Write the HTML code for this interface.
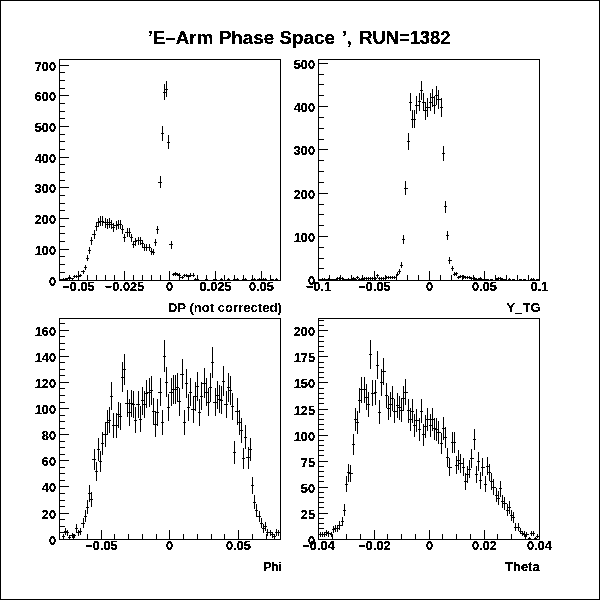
<!DOCTYPE html>
<html><head><meta charset="utf-8"><title>E-Arm Phase Space</title>
<style>
html,body{margin:0;padding:0;background:#fff;}
body{width:600px;height:600px;overflow:hidden;}
svg{display:block;}
text{font-family:"Liberation Sans",Arial,Helvetica,sans-serif;font-weight:bold;font-size:12.75px;fill:#000;}
.ttl{font-size:17.5px;}
.ax{font-size:13px;}
</style></head><body>
<svg width="600" height="600" viewBox="0 0 600 600">
<rect x="0" y="0" width="600" height="600" fill="#fff"/>
<defs><filter id="bw" x="0" y="0" width="600" height="600" filterUnits="userSpaceOnUse" color-interpolation-filters="sRGB"><feComponentTransfer><feFuncA type="discrete" tableValues="0 1 1"/></feComponentTransfer></filter><filter id="bw2" x="0" y="0" width="600" height="600" filterUnits="userSpaceOnUse" color-interpolation-filters="sRGB"><feComponentTransfer><feFuncA type="discrete" tableValues="0 0 0 0 0 0 0 0 0 1 1 1 1 1 1 1 1 1 1 1"/></feComponentTransfer></filter></defs>
<g fill="#000" shape-rendering="crispEdges" filter="url(#bw)">
<path d="M0 0h600v600h-600zM1 1v598h598v-598z" fill-rule="evenodd"/>
<path d="M59 59h222v1h-222zM59 280h222v1h-222zM59 59h1v222h-1zM280 59h1v222h-1zM78 271h1v9h-1zM124 271h1v9h-1zM169 271h1v9h-1zM215 271h1v9h-1zM261 271h1v9h-1zM69 275h1v5h-1zM87 275h1v5h-1zM96 275h1v5h-1zM105 275h1v5h-1zM114 275h1v5h-1zM133 275h1v5h-1zM142 275h1v5h-1zM151 275h1v5h-1zM160 275h1v5h-1zM179 275h1v5h-1zM188 275h1v5h-1zM197 275h1v5h-1zM206 275h1v5h-1zM224 275h1v5h-1zM234 275h1v5h-1zM243 275h1v5h-1zM252 275h1v5h-1zM270 275h1v5h-1zM59 249h10v1h-10zM59 218h10v1h-10zM59 187h10v1h-10zM59 157h10v1h-10zM59 126h10v1h-10zM59 95h10v1h-10zM59 65h10v1h-10zM59 272h6v1h-6zM59 264h6v1h-6zM59 256h6v1h-6zM59 241h6v1h-6zM59 233h6v1h-6zM59 226h6v1h-6zM59 210h6v1h-6zM59 203h6v1h-6zM59 195h6v1h-6zM59 180h6v1h-6zM59 172h6v1h-6zM59 164h6v1h-6zM59 149h6v1h-6zM59 141h6v1h-6zM59 134h6v1h-6zM59 118h6v1h-6zM59 111h6v1h-6zM59 103h6v1h-6zM59 88h6v1h-6zM59 80h6v1h-6zM59 72h6v1h-6zM61 279h1v2h-1zM59 279h4v1h-4zM63 278h1v2h-1zM62 279h3v1h-3zM65 278h1v2h-1zM64 279h3v1h-3zM67 278h1v2h-1zM66 278h3v1h-3zM69 276h1v3h-1zM68 277h3v1h-3zM72 278h1v2h-1zM70 278h4v1h-4zM74 275h1v3h-1zM73 276h3v1h-3zM76 275h1v3h-1zM75 276h3v1h-3zM78 274h1v4h-1zM77 276h3v1h-3zM80 274h1v3h-1zM79 275h3v1h-3zM83 270h1v4h-1zM81 271h4v1h-4zM85 265h1v5h-1zM84 267h3v1h-3zM87 255h1v6h-1zM86 258h3v1h-3zM89 247h1v7h-1zM88 250h3v1h-3zM91 237h1v8h-1zM90 240h3v1h-3zM94 230h1v9h-1zM92 234h4v1h-4zM96 222h1v9h-1zM95 226h3v1h-3zM98 218h1v9h-1zM97 222h3v1h-3zM100 216h1v10h-1zM99 221h3v1h-3zM102 216h1v10h-1zM101 221h3v1h-3zM105 218h1v10h-1zM103 222h4v1h-4zM107 219h1v10h-1zM106 224h3v1h-3zM109 218h1v10h-1zM108 222h3v1h-3zM111 220h1v9h-1zM110 224h3v1h-3zM113 223h1v9h-1zM112 227h3v1h-3zM116 221h1v9h-1zM114 225h4v1h-4zM118 220h1v9h-1zM117 224h3v1h-3zM120 220h1v9h-1zM119 224h3v1h-3zM122 225h1v9h-1zM121 229h3v1h-3zM124 234h1v8h-1zM123 237h3v1h-3zM127 228h1v9h-1zM125 232h4v1h-4zM129 228h1v9h-1zM128 232h3v1h-3zM131 234h1v8h-1zM130 237h3v1h-3zM133 241h1v7h-1zM132 244h3v1h-3zM135 238h1v8h-1zM134 241h3v1h-3zM138 237h1v8h-1zM136 240h4v1h-4zM140 237h1v8h-1zM139 240h3v1h-3zM142 240h1v8h-1zM141 243h3v1h-3zM144 244h1v7h-1zM143 247h3v1h-3zM146 244h1v7h-1zM145 247h3v1h-3zM149 244h1v7h-1zM147 247h4v1h-4zM151 248h1v7h-1zM150 251h3v1h-3zM153 249h1v6h-1zM152 252h3v1h-3zM155 239h1v7h-1zM154 242h3v1h-3zM157 226h1v8h-1zM156 229h3v1h-3zM160 176h1v12h-1zM158 182h4v1h-4zM162 126h1v15h-1zM161 133h3v1h-3zM164 84h1v16h-1zM163 92h3v1h-3zM166 81h1v16h-1zM165 89h3v1h-3zM168 135h1v14h-1zM167 142h3v1h-3zM171 241h1v8h-1zM169 244h4v1h-4zM173 273h1v3h-1zM172 274h3v1h-3zM175 272h1v4h-1zM174 273h3v1h-3zM177 273h1v3h-1zM176 274h3v1h-3zM179 273h1v4h-1zM178 275h3v1h-3zM182 276h1v3h-1zM180 277h4v1h-4zM184 274h1v3h-1zM183 275h3v1h-3zM186 274h1v3h-1zM185 275h3v1h-3zM188 275h1v3h-1zM187 276h3v1h-3zM190 273h1v4h-1zM189 275h3v1h-3zM193 273h1v4h-1zM191 275h4v1h-4zM195 278h1v2h-1zM194 279h3v1h-3zM197 279h1v2h-1zM196 279h3v1h-3zM206 279h1v2h-1zM205 279h3v1h-3zM215 279h1v2h-1zM213 279h4v1h-4zM221 278h1v2h-1zM220 279h3v1h-3zM228 278h1v2h-1zM227 279h3v1h-3zM234 279h1v2h-1zM233 279h3v1h-3zM237 278h1v2h-1zM235 279h4v1h-4zM243 278h1v2h-1zM242 279h3v1h-3zM245 278h1v2h-1zM244 279h3v1h-3zM252 278h1v2h-1zM251 279h3v1h-3zM254 278h1v2h-1zM253 279h3v1h-3zM259 278h1v2h-1zM257 279h4v1h-4zM261 278h1v2h-1zM260 279h3v1h-3zM263 278h1v2h-1zM262 279h3v1h-3zM265 278h1v2h-1zM264 279h3v1h-3zM272 279h1v2h-1zM271 279h3v1h-3zM276 278h1v2h-1zM275 279h3v1h-3z"/>
<text x="78.5" y="291" text-anchor="middle">−0.05</text>
<text x="124.5" y="291" text-anchor="middle">−0.025</text>
<text x="169.5" y="291" text-anchor="middle">0</text>
<text x="215.5" y="291" text-anchor="middle">0.025</text>
<text x="261.5" y="291" text-anchor="middle">0.05</text>
<text x="56" y="286.20" text-anchor="end">0</text>
<text x="56" y="255.20" text-anchor="end">100</text>
<text x="56" y="224.20" text-anchor="end">200</text>
<text x="56" y="193.20" text-anchor="end">300</text>
<text x="56" y="163.20" text-anchor="end">400</text>
<text x="56" y="132.20" text-anchor="end">500</text>
<text x="56" y="101.20" text-anchor="end">600</text>
<text x="56" y="71.20" text-anchor="end">700</text>
<path d="M318 59h222v1h-222zM318 280h222v1h-222zM318 59h1v222h-1zM539 59h1v222h-1zM374 271h1v9h-1zM429 271h1v9h-1zM484 271h1v9h-1zM329 275h1v5h-1zM340 275h1v5h-1zM351 275h1v5h-1zM362 275h1v5h-1zM385 275h1v5h-1zM396 275h1v5h-1zM407 275h1v5h-1zM418 275h1v5h-1zM440 275h1v5h-1zM451 275h1v5h-1zM462 275h1v5h-1zM473 275h1v5h-1zM495 275h1v5h-1zM506 275h1v5h-1zM517 275h1v5h-1zM528 275h1v5h-1zM318 236h10v1h-10zM318 193h10v1h-10zM318 149h10v1h-10zM318 106h10v1h-10zM318 63h10v1h-10zM318 268h6v1h-6zM318 258h6v1h-6zM318 247h6v1h-6zM318 225h6v1h-6zM318 214h6v1h-6zM318 204h6v1h-6zM318 182h6v1h-6zM318 171h6v1h-6zM318 160h6v1h-6zM318 139h6v1h-6zM318 128h6v1h-6zM318 117h6v1h-6zM318 95h6v1h-6zM318 84h6v1h-6zM318 74h6v1h-6zM320 279h1v2h-1zM319 279h3v1h-3zM322 278h1v2h-1zM321 279h3v1h-3zM324 278h1v2h-1zM323 279h3v1h-3zM326 279h1v2h-1zM325 279h3v1h-3zM328 278h1v2h-1zM327 279h4v1h-4zM331 279h1v2h-1zM330 279h3v1h-3zM333 279h1v2h-1zM332 279h3v1h-3zM335 279h1v2h-1zM334 279h3v1h-3zM337 277h1v3h-1zM336 278h3v1h-3zM339 277h1v3h-1zM338 278h4v1h-4zM342 277h1v3h-1zM341 278h3v1h-3zM344 279h1v2h-1zM343 279h3v1h-3zM346 279h1v2h-1zM345 279h3v1h-3zM348 278h1v2h-1zM347 279h3v1h-3zM350 279h1v2h-1zM349 279h4v1h-4zM353 277h1v3h-1zM352 278h3v1h-3zM355 278h1v2h-1zM354 279h3v1h-3zM357 276h1v3h-1zM356 277h3v1h-3zM359 278h1v2h-1zM358 279h3v1h-3zM361 278h1v2h-1zM360 279h4v1h-4zM364 277h1v3h-1zM363 278h3v1h-3zM366 277h1v3h-1zM365 278h3v1h-3zM368 277h1v3h-1zM367 278h3v1h-3zM370 277h1v3h-1zM369 278h3v1h-3zM372 277h1v3h-1zM371 278h4v1h-4zM375 277h1v3h-1zM374 278h3v1h-3zM377 274h1v4h-1zM376 275h3v1h-3zM379 277h1v3h-1zM378 278h3v1h-3zM381 277h1v3h-1zM380 278h3v1h-3zM383 277h1v3h-1zM382 278h4v1h-4zM386 276h1v3h-1zM385 277h3v1h-3zM388 276h1v3h-1zM387 277h3v1h-3zM390 276h1v3h-1zM389 277h3v1h-3zM392 276h1v3h-1zM391 277h3v1h-3zM394 276h1v3h-1zM393 277h4v1h-4zM397 272h1v4h-1zM396 274h3v1h-3zM399 269h1v5h-1zM398 271h3v1h-3zM401 262h1v6h-1zM400 265h3v1h-3zM403 235h1v9h-1zM402 239h3v1h-3zM405 181h1v14h-1zM404 188h4v1h-4zM408 133h1v17h-1zM407 141h3v1h-3zM410 93h1v18h-1zM409 102h3v1h-3zM412 110h1v18h-1zM411 119h3v1h-3zM414 110h1v18h-1zM413 119h3v1h-3zM416 96h1v18h-1zM415 105h4v1h-4zM419 93h1v18h-1zM418 101h3v1h-3zM421 81h1v19h-1zM420 90h3v1h-3zM423 93h1v18h-1zM422 102h3v1h-3zM425 102h1v18h-1zM424 110h3v1h-3zM427 98h1v19h-1zM426 107h4v1h-4zM430 93h1v18h-1zM429 102h3v1h-3zM432 89h1v18h-1zM431 97h3v1h-3zM434 96h1v18h-1zM433 105h3v1h-3zM436 86h1v19h-1zM435 95h3v1h-3zM438 90h1v19h-1zM437 99h4v1h-4zM441 98h1v19h-1zM440 107h3v1h-3zM443 146h1v15h-1zM442 153h3v1h-3zM445 201h1v12h-1zM444 206h3v1h-3zM447 231h1v9h-1zM446 235h3v1h-3zM449 257h1v7h-1zM448 260h4v1h-4zM452 266h1v5h-1zM451 268h3v1h-3zM454 272h1v4h-1zM453 274h3v1h-3zM456 272h1v4h-1zM455 273h3v1h-3zM458 276h1v3h-1zM457 277h3v1h-3zM460 275h1v3h-1zM459 276h4v1h-4zM463 275h1v4h-1zM462 276h3v1h-3zM465 276h1v3h-1zM464 277h3v1h-3zM467 276h1v3h-1zM466 277h3v1h-3zM469 276h1v3h-1zM468 277h3v1h-3zM471 277h1v3h-1zM470 278h4v1h-4zM474 277h1v3h-1zM473 278h3v1h-3zM476 278h1v2h-1zM475 279h3v1h-3zM478 278h1v2h-1zM477 279h3v1h-3zM480 277h1v3h-1zM479 278h3v1h-3zM482 279h1v2h-1zM481 279h4v1h-4zM485 279h1v2h-1zM484 279h3v1h-3zM487 279h1v2h-1zM486 279h3v1h-3zM491 279h1v2h-1zM490 279h3v1h-3zM496 278h1v2h-1zM495 279h3v1h-3zM498 277h1v3h-1zM497 278h3v1h-3zM500 277h1v3h-1zM499 278h3v1h-3zM502 278h1v2h-1zM501 279h3v1h-3zM504 279h1v2h-1zM503 279h4v1h-4zM509 278h1v2h-1zM508 279h3v1h-3zM513 279h1v2h-1zM512 279h3v1h-3zM520 279h1v2h-1zM519 279h3v1h-3zM524 279h1v2h-1zM523 279h3v1h-3zM531 278h1v2h-1zM530 279h3v1h-3zM533 278h1v2h-1zM532 279h3v1h-3zM537 279h1v2h-1zM536 279h4v1h-4z"/>
<text x="318.5" y="291" text-anchor="middle">−0.1</text>
<text x="374.5" y="291" text-anchor="middle">−0.05</text>
<text x="429.5" y="291" text-anchor="middle">0</text>
<text x="484.5" y="291" text-anchor="middle">0.05</text>
<text x="539.5" y="291" text-anchor="middle">0.1</text>
<text x="315" y="285.20" text-anchor="end">0</text>
<text x="315" y="242.20" text-anchor="end">100</text>
<text x="315" y="199.20" text-anchor="end">200</text>
<text x="315" y="155.20" text-anchor="end">300</text>
<text x="315" y="112.20" text-anchor="end">400</text>
<text x="315" y="69.20" text-anchor="end">500</text>
<path d="M59 318h222v1h-222zM59 539h222v1h-222zM59 318h1v222h-1zM280 318h1v222h-1zM101 530h1v9h-1zM169 530h1v9h-1zM238 530h1v9h-1zM73 534h1v5h-1zM87 534h1v5h-1zM114 534h1v5h-1zM128 534h1v5h-1zM142 534h1v5h-1zM156 534h1v5h-1zM183 534h1v5h-1zM197 534h1v5h-1zM211 534h1v5h-1zM224 534h1v5h-1zM252 534h1v5h-1zM266 534h1v5h-1zM59 513h10v1h-10zM59 486h10v1h-10zM59 460h10v1h-10zM59 434h10v1h-10zM59 408h10v1h-10zM59 382h10v1h-10zM59 356h10v1h-10zM59 330h10v1h-10zM59 532h6v1h-6zM59 526h6v1h-6zM59 519h6v1h-6zM59 506h6v1h-6zM59 500h6v1h-6zM59 493h6v1h-6zM59 480h6v1h-6zM59 473h6v1h-6zM59 467h6v1h-6zM59 454h6v1h-6zM59 447h6v1h-6zM59 441h6v1h-6zM59 428h6v1h-6zM59 421h6v1h-6zM59 415h6v1h-6zM59 402h6v1h-6zM59 395h6v1h-6zM59 388h6v1h-6zM59 375h6v1h-6zM59 369h6v1h-6zM59 362h6v1h-6zM59 349h6v1h-6zM59 343h6v1h-6zM59 336h6v1h-6zM59 323h6v1h-6zM63 534h1v5h-1zM62 536h3v1h-3zM65 528h1v7h-1zM64 531h3v1h-3zM67 530h1v6h-1zM66 532h3v1h-3zM69 535h1v4h-1zM68 537h3v1h-3zM72 533h1v5h-1zM70 535h4v1h-4zM74 534h1v4h-1zM73 535h3v1h-3zM76 524h1v9h-1zM75 528h3v1h-3zM78 530h1v6h-1zM77 532h3v1h-3zM80 528h1v7h-1zM79 531h3v1h-3zM83 518h1v10h-1zM81 523h4v1h-4zM85 510h1v12h-1zM84 516h3v1h-3zM87 500h1v14h-1zM86 507h3v1h-3zM89 485h1v17h-1zM88 493h3v1h-3zM91 492h1v15h-1zM90 499h3v1h-3zM94 449h1v21h-1zM92 459h4v1h-4zM96 462h1v19h-1zM95 471h3v1h-3zM98 438h1v23h-1zM97 449h3v1h-3zM100 451h1v21h-1zM99 461h3v1h-3zM102 432h1v23h-1zM101 443h3v1h-3zM105 422h1v25h-1zM103 434h4v1h-4zM107 410h1v25h-1zM106 422h3v1h-3zM109 407h1v26h-1zM108 420h3v1h-3zM111 382h1v28h-1zM110 396h3v1h-3zM113 413h1v25h-1zM112 425h3v1h-3zM116 413h1v25h-1zM114 425h4v1h-4zM118 402h1v26h-1zM117 414h3v1h-3zM120 403h1v27h-1zM119 416h3v1h-3zM122 362h1v30h-1zM121 377h3v1h-3zM124 354h1v31h-1zM123 369h3v1h-3zM127 390h1v27h-1zM125 403h4v1h-4zM129 399h1v27h-1zM128 412h3v1h-3zM131 390h1v27h-1zM130 403h3v1h-3zM133 391h1v27h-1zM132 404h3v1h-3zM135 407h1v26h-1zM134 420h3v1h-3zM138 391h1v27h-1zM136 404h4v1h-4zM140 406h1v26h-1zM139 419h3v1h-3zM142 387h1v28h-1zM141 400h3v1h-3zM144 391h1v27h-1zM143 404h3v1h-3zM146 380h1v28h-1zM145 393h3v1h-3zM149 378h1v29h-1zM147 392h4v1h-4zM151 376h1v29h-1zM150 390h3v1h-3zM153 398h1v27h-1zM152 411h3v1h-3zM155 411h1v26h-1zM154 424h3v1h-3zM157 399h1v27h-1zM156 412h3v1h-3zM160 378h1v28h-1zM158 392h4v1h-4zM162 410h1v25h-1zM161 422h3v1h-3zM164 340h1v32h-1zM163 356h3v1h-3zM166 367h1v30h-1zM165 382h3v1h-3zM168 394h1v27h-1zM167 407h3v1h-3zM171 378h1v28h-1zM169 392h4v1h-4zM173 375h1v29h-1zM172 389h3v1h-3zM175 375h1v29h-1zM174 389h3v1h-3zM177 373h1v29h-1zM176 387h3v1h-3zM179 388h1v28h-1zM178 401h3v1h-3zM182 359h1v30h-1zM180 374h4v1h-4zM184 410h1v25h-1zM183 422h3v1h-3zM186 369h1v29h-1zM185 383h3v1h-3zM188 394h1v27h-1zM187 407h3v1h-3zM190 378h1v28h-1zM189 392h3v1h-3zM193 396h1v27h-1zM191 409h4v1h-4zM195 382h1v29h-1zM194 396h3v1h-3zM197 372h1v29h-1zM196 386h3v1h-3zM199 399h1v27h-1zM198 412h3v1h-3zM201 382h1v28h-1zM200 396h3v1h-3zM204 368h1v30h-1zM202 383h4v1h-4zM206 378h1v28h-1zM205 392h3v1h-3zM208 388h1v28h-1zM207 402h3v1h-3zM210 373h1v29h-1zM209 387h3v1h-3zM212 347h1v31h-1zM211 362h3v1h-3zM215 388h1v28h-1zM213 402h4v1h-4zM217 381h1v28h-1zM216 395h3v1h-3zM219 385h1v28h-1zM218 399h3v1h-3zM221 386h1v28h-1zM220 400h3v1h-3zM223 366h1v30h-1zM222 381h3v1h-3zM226 391h1v27h-1zM224 404h4v1h-4zM228 373h1v29h-1zM227 387h3v1h-3zM230 376h1v29h-1zM229 390h3v1h-3zM232 393h1v27h-1zM231 406h3v1h-3zM234 441h1v23h-1zM233 452h3v1h-3zM237 398h1v27h-1zM235 411h4v1h-4zM239 410h1v25h-1zM238 422h3v1h-3zM241 418h1v25h-1zM240 430h3v1h-3zM243 448h1v21h-1zM242 458h3v1h-3zM245 425h1v24h-1zM244 437h3v1h-3zM248 447h1v22h-1zM246 457h4v1h-4zM250 438h1v23h-1zM249 449h3v1h-3zM252 477h1v17h-1zM251 485h3v1h-3zM254 495h1v14h-1zM253 502h3v1h-3zM256 504h1v13h-1zM255 510h3v1h-3zM259 511h1v11h-1zM257 516h4v1h-4zM261 518h1v10h-1zM260 523h3v1h-3zM263 524h1v9h-1zM262 528h3v1h-3zM265 522h1v9h-1zM264 526h3v1h-3zM267 529h1v7h-1zM266 532h3v1h-3zM270 530h1v6h-1zM268 532h4v1h-4zM272 532h1v6h-1zM271 534h3v1h-3zM274 534h1v5h-1zM273 536h3v1h-3zM276 529h1v7h-1zM275 532h3v1h-3zM278 530h1v6h-1zM277 532h3v1h-3z"/>
<text x="101.5" y="550" text-anchor="middle">−0.05</text>
<text x="169.5" y="550" text-anchor="middle">0</text>
<text x="238.5" y="550" text-anchor="middle">0.05</text>
<text x="56" y="545.20" text-anchor="end">0</text>
<text x="56" y="519.20" text-anchor="end">20</text>
<text x="56" y="492.20" text-anchor="end">40</text>
<text x="56" y="466.20" text-anchor="end">60</text>
<text x="56" y="440.20" text-anchor="end">80</text>
<text x="56" y="414.20" text-anchor="end">100</text>
<text x="56" y="388.20" text-anchor="end">120</text>
<text x="56" y="362.20" text-anchor="end">140</text>
<text x="56" y="336.20" text-anchor="end">160</text>
<text class="ax" x="281.8" y="570.8" text-anchor="end" textLength="18" lengthAdjust="spacingAndGlyphs">Phi</text>
<path d="M318 318h222v1h-222zM318 539h222v1h-222zM318 318h1v222h-1zM539 318h1v222h-1zM374 530h1v9h-1zM429 530h1v9h-1zM484 530h1v9h-1zM332 534h1v5h-1zM346 534h1v5h-1zM360 534h1v5h-1zM387 534h1v5h-1zM401 534h1v5h-1zM415 534h1v5h-1zM442 534h1v5h-1zM456 534h1v5h-1zM470 534h1v5h-1zM497 534h1v5h-1zM511 534h1v5h-1zM525 534h1v5h-1zM318 513h10v1h-10zM318 487h10v1h-10zM318 461h10v1h-10zM318 435h10v1h-10zM318 409h10v1h-10zM318 382h10v1h-10zM318 356h10v1h-10zM318 330h10v1h-10zM318 534h6v1h-6zM318 528h6v1h-6zM318 523h6v1h-6zM318 518h6v1h-6zM318 507h6v1h-6zM318 502h6v1h-6zM318 497h6v1h-6zM318 492h6v1h-6zM318 481h6v1h-6zM318 476h6v1h-6zM318 471h6v1h-6zM318 466h6v1h-6zM318 455h6v1h-6zM318 450h6v1h-6zM318 445h6v1h-6zM318 440h6v1h-6zM318 429h6v1h-6zM318 424h6v1h-6zM318 419h6v1h-6zM318 414h6v1h-6zM318 403h6v1h-6zM318 398h6v1h-6zM318 393h6v1h-6zM318 388h6v1h-6zM318 377h6v1h-6zM318 372h6v1h-6zM318 367h6v1h-6zM318 362h6v1h-6zM318 351h6v1h-6zM318 346h6v1h-6zM318 341h6v1h-6zM318 336h6v1h-6zM318 325h6v1h-6zM318 320h6v1h-6zM320 532h1v5h-1zM319 534h3v1h-3zM322 532h1v5h-1zM321 534h3v1h-3zM324 532h1v5h-1zM323 534h3v1h-3zM326 530h1v6h-1zM325 532h3v1h-3zM328 531h1v6h-1zM327 533h4v1h-4zM331 532h1v5h-1zM330 534h3v1h-3zM333 526h1v7h-1zM332 529h3v1h-3zM335 525h1v7h-1zM334 528h3v1h-3zM337 525h1v7h-1zM336 528h3v1h-3zM339 521h1v9h-1zM338 525h4v1h-4zM342 517h1v9h-1zM341 521h3v1h-3zM344 504h1v12h-1zM343 510h3v1h-3zM346 476h1v16h-1zM345 484h3v1h-3zM348 464h1v18h-1zM347 472h3v1h-3zM350 465h1v17h-1zM349 473h4v1h-4zM353 434h1v21h-1zM352 444h3v1h-3zM355 408h1v23h-1zM354 419h3v1h-3zM357 411h1v23h-1zM356 422h3v1h-3zM359 388h1v25h-1zM358 400h3v1h-3zM361 377h1v26h-1zM360 389h4v1h-4zM364 377h1v26h-1zM363 389h3v1h-3zM366 384h1v26h-1zM365 397h3v1h-3zM368 392h1v25h-1zM367 404h3v1h-3zM370 340h1v29h-1zM369 354h3v1h-3zM372 380h1v26h-1zM371 393h4v1h-4zM375 380h1v25h-1zM374 392h3v1h-3zM377 351h1v28h-1zM376 365h3v1h-3zM379 400h1v24h-1zM378 412h3v1h-3zM381 369h1v27h-1zM380 382h3v1h-3zM383 358h1v27h-1zM382 371h4v1h-4zM386 383h1v25h-1zM385 395h3v1h-3zM388 396h1v24h-1zM387 408h3v1h-3zM390 392h1v25h-1zM389 404h3v1h-3zM392 386h1v25h-1zM391 398h3v1h-3zM394 399h1v24h-1zM393 411h4v1h-4zM397 393h1v25h-1zM396 405h3v1h-3zM399 396h1v24h-1zM398 407h3v1h-3zM401 398h1v24h-1zM400 410h3v1h-3zM403 386h1v25h-1zM402 398h3v1h-3zM405 379h1v26h-1zM404 392h4v1h-4zM408 399h1v24h-1zM407 410h3v1h-3zM410 408h1v23h-1zM409 419h3v1h-3zM412 399h1v24h-1zM411 411h3v1h-3zM414 414h1v23h-1zM413 425h3v1h-3zM416 409h1v23h-1zM415 420h4v1h-4zM419 418h1v23h-1zM418 429h3v1h-3zM421 399h1v24h-1zM420 411h3v1h-3zM423 424h1v22h-1zM422 434h3v1h-3zM425 415h1v23h-1zM424 426h3v1h-3zM427 408h1v23h-1zM426 419h4v1h-4zM430 414h1v23h-1zM429 425h3v1h-3zM432 408h1v23h-1zM431 419h3v1h-3zM434 418h1v22h-1zM433 428h3v1h-3zM436 418h1v23h-1zM435 429h3v1h-3zM438 421h1v23h-1zM437 432h4v1h-4zM441 433h1v21h-1zM440 443h3v1h-3zM443 417h1v23h-1zM442 428h3v1h-3zM445 427h1v21h-1zM444 437h3v1h-3zM447 448h1v19h-1zM446 457h3v1h-3zM449 458h1v18h-1zM448 467h4v1h-4zM452 432h1v21h-1zM451 442h3v1h-3zM454 432h1v21h-1zM453 442h3v1h-3zM456 456h1v18h-1zM455 465h3v1h-3zM458 450h1v20h-1zM457 460h3v1h-3zM460 454h1v19h-1zM459 463h4v1h-4zM463 458h1v18h-1zM462 467h3v1h-3zM465 473h1v17h-1zM464 481h3v1h-3zM467 466h1v17h-1zM466 474h3v1h-3zM469 460h1v18h-1zM468 469h3v1h-3zM471 449h1v19h-1zM470 458h4v1h-4zM474 429h1v21h-1zM473 439h3v1h-3zM476 466h1v17h-1zM475 474h3v1h-3zM478 452h1v19h-1zM477 461h3v1h-3zM480 472h1v17h-1zM479 480h3v1h-3zM482 458h1v18h-1zM481 467h4v1h-4zM485 476h1v16h-1zM484 484h3v1h-3zM487 457h1v18h-1zM486 466h3v1h-3zM489 464h1v17h-1zM488 472h3v1h-3zM491 473h1v17h-1zM490 481h3v1h-3zM493 479h1v16h-1zM492 487h4v1h-4zM496 488h1v14h-1zM495 495h3v1h-3zM498 491h1v14h-1zM497 498h3v1h-3zM500 481h1v16h-1zM499 488h3v1h-3zM502 495h1v13h-1zM501 501h3v1h-3zM504 497h1v13h-1zM503 503h4v1h-4zM507 504h1v12h-1zM506 510h3v1h-3zM509 501h1v13h-1zM508 507h3v1h-3zM511 510h1v11h-1zM510 515h3v1h-3zM513 512h1v11h-1zM512 517h3v1h-3zM515 523h1v8h-1zM514 527h4v1h-4zM518 523h1v8h-1zM517 527h3v1h-3zM520 528h1v6h-1zM519 531h3v1h-3zM522 531h1v5h-1zM521 533h3v1h-3zM524 531h1v6h-1zM523 534h3v1h-3zM526 532h1v5h-1zM525 534h4v1h-4zM529 537h1v3h-1zM528 538h3v1h-3zM531 531h1v5h-1zM530 533h3v1h-3zM533 531h1v5h-1zM532 533h3v1h-3zM535 537h1v3h-1zM534 538h3v1h-3zM537 534h1v4h-1zM536 536h4v1h-4z"/>
<text x="318.5" y="550" text-anchor="middle">−0.04</text>
<text x="374.5" y="550" text-anchor="middle">−0.02</text>
<text x="429.5" y="550" text-anchor="middle">0</text>
<text x="484.5" y="550" text-anchor="middle">0.02</text>
<text x="539.5" y="550" text-anchor="middle">0.04</text>
<text x="315" y="545.20" text-anchor="end">0</text>
<text x="315" y="519.20" text-anchor="end">25</text>
<text x="315" y="493.20" text-anchor="end">50</text>
<text x="315" y="467.20" text-anchor="end">75</text>
<text x="315" y="441.20" text-anchor="end">100</text>
<text x="315" y="415.20" text-anchor="end">125</text>
<text x="315" y="388.20" text-anchor="end">150</text>
<text x="315" y="362.20" text-anchor="end">175</text>
<text x="315" y="336.20" text-anchor="end">200</text>
<text class="ax" x="539.6" y="570.8" text-anchor="end" textLength="34.5" lengthAdjust="spacingAndGlyphs">Theta</text>

<text class="ttl" y="43.5"><tspan x="147.4" textLength="187.6" lengthAdjust="spacingAndGlyphs">’E–Arm Phase Space</tspan> <tspan x="341.9">’,</tspan> <tspan x="359.2" textLength="91.3" lengthAdjust="spacingAndGlyphs">RUN=1382</tspan></text>
</g>
<g fill="#000" filter="url(#bw2)">
<text class="ax" x="281.8" y="311.8" text-anchor="end" textLength="114" lengthAdjust="spacingAndGlyphs">DP (not corrected)</text>
<text class="ax" x="540.8" y="311.8" text-anchor="end" textLength="34.5" lengthAdjust="spacingAndGlyphs">Y_TG</text>
</g>
</svg>
</body></html>
